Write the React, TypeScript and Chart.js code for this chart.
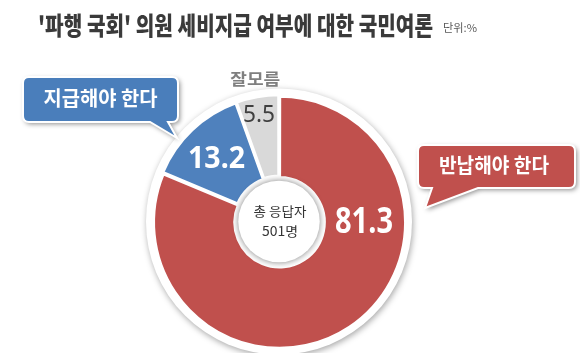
import { useEffect, useRef } from 'react';
import { Chart, registerables } from 'chart.js';

Chart.register(...registerables);

// ---- data ----
const categories = ['반납해야 한다', '지급해야 한다', '잘모름'];
const values = [81.3, 13.2, 5.5];
const sliceColors = ['#C0504D', '#4F81BD', '#D9D9D9'];
const valueTextColors = ['#FFFFFF', '#FFFFFF', '#404040'];
const titleText = "'파행 국회' 의원 세비지급 여부에 대한 국민여론";
const unitText = '단위:%';
const centerLines = ['총 응답자', '501명'];

// ---- layout (fractions of outer radius, relative to the doughnut centre) ----
const valueLabelPos = [
  { fx: 0.68, fy: 0.01, size: 36, w: 58, weight: 'bold' },
  { fx: -0.5, fy: -0.5, size: 31, w: 57, weight: 'bold' },
  { fx: -0.16, fy: -0.85, size: 24, w: 32, weight: 'normal' },
];

function fitText(ctx: CanvasRenderingContext2D, text: string, x: number, y: number, font: string, color: string, width: number) {
  ctx.save();
  ctx.font = font;
  ctx.fillStyle = color;
  ctx.textAlign = 'center';
  ctx.textBaseline = 'middle';
  const w = ctx.measureText(text).width || 1;
  const s = width / w;
  ctx.translate(x, y);
  ctx.scale(s, 1);
  ctx.fillText(text, 0, 0);
  ctx.restore();
}

function callout(
  ctx: CanvasRenderingContext2D,
  l: number, t: number, r: number, b: number, rad: number,
  bx1: number, bx2: number, tipX: number, tipY: number,
  color: string,
) {
  ctx.save();
  ctx.beginPath();
  ctx.moveTo(l + rad, t);
  ctx.lineTo(r - rad, t);
  ctx.quadraticCurveTo(r, t, r, t + rad);
  ctx.lineTo(r, b - rad);
  ctx.quadraticCurveTo(r, b, r - rad, b);
  ctx.lineTo(bx2, b);
  ctx.lineTo(tipX, tipY);
  ctx.lineTo(bx1, b);
  ctx.lineTo(l + rad, b);
  ctx.quadraticCurveTo(l, b, l, b - rad);
  ctx.lineTo(l, t + rad);
  ctx.quadraticCurveTo(l, t, l + rad, t);
  ctx.closePath();
  ctx.shadowColor = 'rgba(0,0,0,0.45)';
  ctx.shadowBlur = 5;
  ctx.shadowOffsetX = 2;
  ctx.shadowOffsetY = 2;
  ctx.fillStyle = color;
  ctx.fill();
  ctx.shadowColor = 'rgba(0,0,0,0)';
  ctx.lineWidth = 2;
  ctx.strokeStyle = '#FFFFFF';
  ctx.stroke();
  ctx.restore();
}

const KR = '"Noto Sans CJK KR", "Noto Sans", sans-serif';
const NUM = '"Noto Sans", "Liberation Sans", sans-serif';

const decorPlugin = {
  id: 'decor',
  beforeDatasetsDraw(chart: any) {
    const ctx: CanvasRenderingContext2D = chart.ctx;
    const arc = chart.getDatasetMeta(0).data[0];
    if (!arc) return;
    const { x, y, outerRadius } = arc.getProps(['x', 'y', 'outerRadius'], true);
    ctx.save();
    ctx.beginPath();
    ctx.arc(x, y, outerRadius + 8, 0, Math.PI * 2);
    ctx.shadowColor = 'rgba(0,0,0,0.35)';
    ctx.shadowBlur = 6;
    ctx.shadowOffsetX = 1;
    ctx.shadowOffsetY = 2;
    ctx.fillStyle = '#FFFFFF';
    ctx.fill();
    ctx.restore();
  },
  afterDatasetsDraw(chart: any) {
    const ctx: CanvasRenderingContext2D = chart.ctx;
    const meta = chart.getDatasetMeta(0);
    const arc = meta.data[0];
    if (!arc) return;
    const { x, y, outerRadius, innerRadius } = arc.getProps(['x', 'y', 'outerRadius', 'innerRadius'], true);

    // inner white disc with soft shadow
    ctx.save();
    ctx.beginPath();
    ctx.arc(x, y, innerRadius - 3, 0, Math.PI * 2);
    ctx.shadowColor = 'rgba(0,0,0,0.5)';
    ctx.shadowBlur = 6;
    ctx.fillStyle = '#FFFFFF';
    ctx.fill();
    ctx.restore();

    // centre text
    fitText(ctx, centerLines[0], x + 1, y - 10, `13px ${KR}`, '#333333', 53);
    fitText(ctx, centerLines[1], x + 1, y + 10, `13px ${KR}`, '#333333', 36);

    // value labels
    values.forEach((v, i) => {
      const p = valueLabelPos[i];
      fitText(ctx, v.toFixed(1), x + p.fx * outerRadius, y + p.fy * outerRadius,
        `${p.weight} ${p.size}px ${NUM}`, valueTextColors[i], p.w);
    });

    // category label for small slice
    fitText(ctx, categories[2], x - 0.19 * outerRadius, y - 1.14 * outerRadius, `bold 16px ${KR}`, '#7F7F7F', 50);

    // callouts
    callout(ctx, 23, 77, 178, 122, 6, 150, 168, 177, 138, '#4A7EBB');
    fitText(ctx, categories[1], 100.5, 98, `bold 20px ${KR}`, '#FFFFFF', 114);
    callout(ctx, 418, 145, 575, 188, 6, 432, 478, 425, 208, '#C0504D');
    fitText(ctx, categories[0], 494, 165, `bold 20px ${KR}`, '#FFFFFF', 110);

    // title
    fitText(ctx, titleText, 235.5, 25, `900 25px ${KR}`, '#3A3A3A', 395);
    fitText(ctx, unitText, 460, 28, `11px ${KR}`, '#595959', 34);
  },
};

export default function App() {
  const ref = useRef<HTMLCanvasElement | null>(null);
  useEffect(() => {
    if (!ref.current) return;
    const chart = new Chart(ref.current, {
      type: 'doughnut',
      data: {
        labels: categories,
        datasets: [{
          data: values,
          backgroundColor: sliceColors,
          borderColor: '#FFFFFF',
          borderWidth: 3,
          offset: 4,
        }],
      },
      options: {
        responsive: false,
        animation: false,
        devicePixelRatio: 1,
        cutout: '35%',
        layout: { padding: { left: 150, right: 172, top: 93, bottom: 3 } },
        plugins: {
          legend: { display: false },
          tooltip: { enabled: false },
          title: { display: false },
        },
      },
      plugins: [decorPlugin],
    });
    return () => chart.destroy();
  }, []);
  return (
    <div style={{ position: 'absolute', left: 0, top: 0, width: 580, height: 353, background: '#FFFFFF' }}>
      <canvas ref={ref} width={580} height={353} style={{ width: 580, height: 353, display: 'block' }} />
    </div>
  );
}
